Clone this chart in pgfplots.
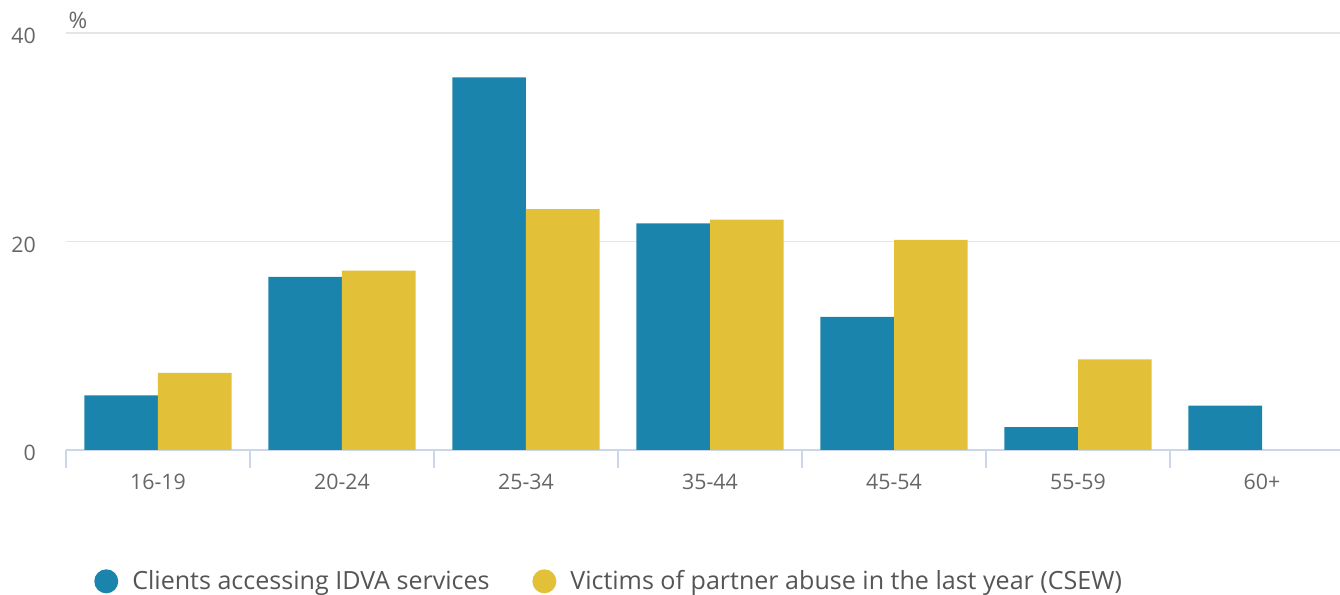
\documentclass[border=0pt]{standalone}
\usepackage{pgfplots}
\pgfplotsset{compat=1.18}
\usepackage{fontspec}
\setmainfont{Open Sans}
\definecolor{cblue}{HTML}{1B84AC}
\definecolor{cyellow}{HTML}{E2C139}
\definecolor{axisc}{HTML}{CCD6EB}
\definecolor{gridc}{HTML}{E6E6E6}
\definecolor{labc}{HTML}{666666}
\definecolor{legc}{HTML}{555555}
\begin{document}
\begin{tikzpicture}[x=1pt,y=1pt]
\begin{axis}[
  at={(0,0)}, anchor=south west,
  scale only axis,
  width=966pt, height=312.75pt,
  xmin=-0.5, xmax=6.5, ymin=0, ymax=40,
  axis x line=bottom, axis y line=left,
  x axis line style={draw=axisc, line width=1.2pt, -},
  y axis line style={draw=none, -},
  ytick={0,20,40},
  ymajorgrids, grid style={draw=gridc, line width=0.9pt},
  ytick style={draw=none},
  xtick={0,1,2,3,4,5,6},
  xticklabels={16-19,20-24,25-34,35-44,45-54,55-59,60+},
  xtick style={draw=none},
  extra x ticks={-0.5,0.5,1.5,2.5,3.5,4.5,5.5},
  extra x tick labels={},
  extra x tick style={xtick style={draw=axisc, line width=1.2pt}, major tick length=13.5pt, tick align=outside, grid=none},
  ticklabel style={font=\fontsize{16}{18}\selectfont, text=labc},
  /pgf/number format/assume math mode=true,
  yticklabel style={xshift=-17pt, yshift=-2.2pt},
  xticklabel style={yshift=-10.5pt},
  ylabel={\%}, ylabel style={rotate=-90, font=\fontsize{17}{18}\selectfont, text=labc, at={(rel axis cs:0,1)}, anchor=south west, xshift=-1.5pt, yshift=0pt},
  ybar, bar width=0.4,
  legend style={at={(rel axis cs:0,0)}, anchor=west, xshift=21pt, yshift=-98.5pt, draw=none, fill=none, inner sep=0pt,
    font=\fontsize{18.8}{20}\selectfont, text=legc, legend columns=2,
    /tikz/every even column/.append style={column sep=30pt}},
  legend image code/.code={\fill (9pt,0pt) circle (9pt); \path (26.5pt,0pt);},
]
\addplot[fill=cblue, draw=none, bar shift=-0.2] coordinates {(0,5.25) (1,16.6) (2,35.75) (3,21.75) (4,12.76) (5,2.2) (6,4.25)};
\addplot[fill=cyellow, draw=none, bar shift=0.2] coordinates {(0,7.4) (1,17.2) (2,23.1) (3,22.1) (4,20.16) (5,8.7)};
\legend{Clients accessing IDVA services, Victims of partner abuse in the last year (CSEW)}
\end{axis}
\pgfresetboundingbox
\path[use as bounding box] (-49.5pt,-108.75pt) rectangle (955.5pt,337.5pt);
\end{tikzpicture}
\end{document}
